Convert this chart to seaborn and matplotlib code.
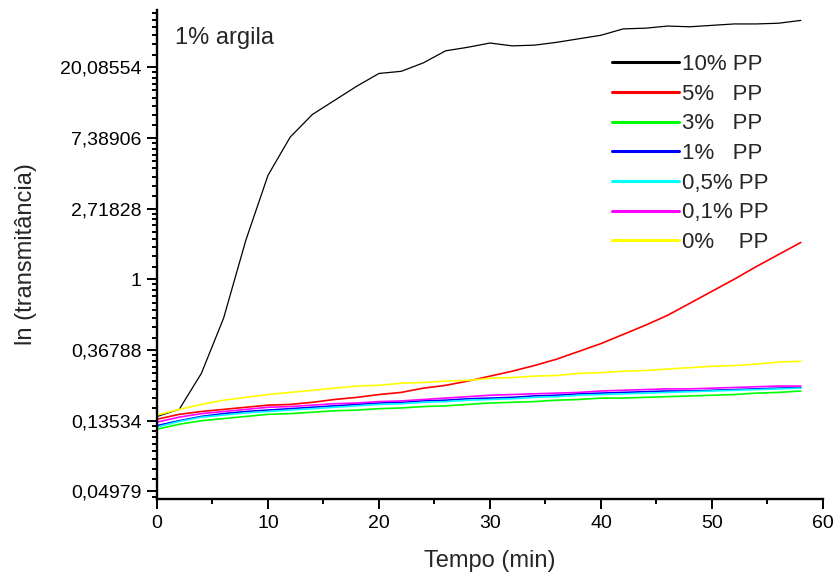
import numpy as np
import pandas as pd
import matplotlib
matplotlib.use("Agg")
import matplotlib.pyplot as plt
import seaborn as sns
from matplotlib.ticker import FixedLocator, FixedFormatter, NullFormatter
from matplotlib.lines import Line2D

# ---- data (values are ln(transmittance)) ----
tempo = list(range(0, 60, 2))

ln_10pp = [-1.94, -1.84, -1.33, -0.55, 0.55, 1.47, 2.01, 2.33, 2.53, 2.73,
           2.91, 2.94, 3.06, 3.23, 3.28, 3.34, 3.30, 3.31, 3.35, 3.40,
           3.45, 3.54, 3.55, 3.58, 3.57, 3.59, 3.61, 3.61, 3.62, 3.66]
ln_5pp = [-1.98, -1.91, -1.87, -1.84, -1.81, -1.78, -1.77, -1.74, -1.70, -1.67,
          -1.63, -1.60, -1.54, -1.50, -1.44, -1.37, -1.30, -1.22, -1.13, -1.02,
          -0.91, -0.78, -0.65, -0.51, -0.34, -0.17, 0.00, 0.18, 0.35, 0.52]
ln_3pp = [-2.12, -2.05, -2.00, -1.97, -1.94, -1.91, -1.90, -1.88, -1.86, -1.85,
          -1.83, -1.82, -1.80, -1.79, -1.77, -1.75, -1.74, -1.73, -1.71, -1.70,
          -1.68, -1.68, -1.67, -1.66, -1.65, -1.64, -1.63, -1.61, -1.60, -1.58]
ln_1pp = [-2.07, -2.00, -1.94, -1.90, -1.87, -1.85, -1.83, -1.81, -1.79, -1.77,
          -1.75, -1.74, -1.72, -1.71, -1.69, -1.68, -1.67, -1.65, -1.64, -1.62,
          -1.61, -1.60, -1.59, -1.58, -1.58, -1.57, -1.56, -1.55, -1.54, -1.53]
ln_05pp = [-2.09, -2.01, -1.95, -1.92, -1.89, -1.87, -1.85, -1.83, -1.81, -1.79,
           -1.77, -1.76, -1.74, -1.73, -1.71, -1.70, -1.69, -1.67, -1.66, -1.64,
           -1.63, -1.62, -1.61, -1.60, -1.59, -1.58, -1.57, -1.56, -1.55, -1.54]
ln_01pp = [-2.02, -1.95, -1.90, -1.87, -1.84, -1.81, -1.80, -1.78, -1.76, -1.75,
           -1.73, -1.72, -1.70, -1.68, -1.66, -1.64, -1.63, -1.62, -1.61, -1.60,
           -1.58, -1.57, -1.56, -1.55, -1.55, -1.54, -1.53, -1.52, -1.51, -1.51]
ln_0pp = [-1.92, -1.84, -1.77, -1.71, -1.67, -1.63, -1.60, -1.57, -1.54, -1.51,
          -1.50, -1.47, -1.46, -1.44, -1.43, -1.40, -1.39, -1.37, -1.36, -1.33,
          -1.32, -1.30, -1.29, -1.27, -1.25, -1.23, -1.22, -1.20, -1.17, -1.16]

series_labels = ["10% PP", "5%   PP", "3%   PP", "1%   PP", "0,5% PP", "0,1% PP", "0%    PP"]
series_values = [ln_10pp, ln_5pp, ln_3pp, ln_1pp, ln_05pp, ln_01pp, ln_0pp]
series_colors = ["#000000", "#ff0000", "#00ff00", "#0000ff", "#00ffff", "#ff00ff", "#ffff00"]

ytick_exponents = [-3, -2, -1, 0, 1, 2, 3]
ytick_labels = ["0,04979", "0,13534", "0,36788", "1", "2,71828", "7,38906", "20,08554"]
xticks = [0, 10, 20, 30, 40, 50, 60]

# ---- build long-form table ----
rows = []
for lab, vals in zip(series_labels, series_values):
    for t, v in zip(tempo, vals):
        rows.append({"Tempo": t, "T": np.exp(v), "serie": lab})
df = pd.DataFrame(rows)

sns.set_theme(style="ticks")
plt.rcParams["font.family"] = ["Liberation Sans", "DejaVu Sans"]

fig = plt.figure(figsize=(8.37, 5.76), dpi=100)
ax = fig.add_axes([157 / 837, 1 - 498.5 / 576, (823 - 157) / 837, (498.5 - 10.5) / 576])

palette = dict(zip(series_labels, series_colors))
sns.lineplot(data=df, x="Tempo", y="T", hue="serie", hue_order=series_labels,
             palette=palette, estimator=None, sort=False, legend=False,
             linewidth=1.2, ax=ax)
for line, lab in zip(ax.get_lines(), series_labels):
    if lab == "10% PP":
        line.set_linewidth(0.9)

ax.set_yscale("log", base=np.e)
ax.set_ylim(np.exp(-3.1), np.exp(3.8))
ax.set_xlim(0, 60)

ax.yaxis.set_major_locator(FixedLocator([np.exp(k) for k in ytick_exponents]))
ax.yaxis.set_major_formatter(FixedFormatter(ytick_labels))
minors = []
for k in range(-4, 4):
    lo, hi = np.exp(k), np.exp(k + 1)
    for j in range(1, 9):
        minors.append(lo + j * (hi - lo) / 9)
ax.yaxis.set_minor_locator(FixedLocator(minors))
ax.yaxis.set_minor_formatter(NullFormatter())

ax.set_xticks(xticks)
ax.set_xticks([5, 15, 25, 35, 45, 55], minor=True)

for s in ["top", "right"]:
    ax.spines[s].set_visible(False)
for s in ["left", "bottom"]:
    ax.spines[s].set_linewidth(1.7)
    ax.spines[s].set_color("black")

ax.tick_params(axis="both", which="major", direction="out", length=7, width=1.4,
               labelsize=14, colors="black", pad=4)
ax.tick_params(axis="both", which="minor", direction="out", length=3.5, width=1.4,
               colors="black")
ax.tick_params(axis="x", which="major", pad=5)

ax.set_xlabel("Tempo (min)", fontsize=17, labelpad=13)
ax.set_ylabel("ln (transmitância)", fontsize=17, labelpad=17)
ax.grid(False)

fig.text(175 / 837, 1 - 38 / 576, "1% argila", fontsize=17, va="center", ha="left")

handles = [Line2D([0], [0], color=c, linewidth=2.2) for c in series_colors]
ax.legend(handles, series_labels, loc="upper left",
          bbox_to_anchor=(612 / 837, 1 - 54 / 576), bbox_transform=fig.transFigure,
          frameon=False, fontsize=16, handlelength=3.0, handletextpad=0.15,
          labelspacing=0.39, borderpad=0, borderaxespad=0)

fig.savefig("out.png", dpi=100)
